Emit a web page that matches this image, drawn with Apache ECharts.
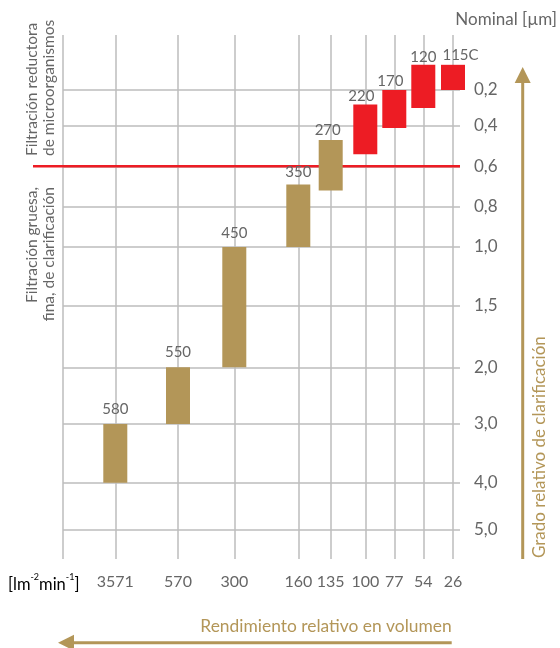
<!DOCTYPE html>
<html>
<head>
<meta charset="utf-8">
<script src="https://cdn.jsdelivr.net/npm/echarts@6/dist/echarts.min.js"></script>
<style>
  html, body { margin: 0; padding: 0; background: #fff; }
  #chart { width: 560px; height: 648px; }
</style>
</head>
<body>
<div id="chart"></div>
<script>
// ---- data ----
const categories = ['3571', '570', '300', '160', '135', '100', '77', '54', '26'];
const ratings = ['580', '550', '450', '350', '270', '220', '170', '120', '115C'];
const poreFrom = [3.0, 2.0, 1.0, 0.69, 0.47, 0.28, 0.2, 0.06, 0.06];
const poreTo = [4.0, 3.0, 2.0, 1.0, 0.72, 0.54, 0.41, 0.30, 0.20];
const filterClass = ['coarse', 'coarse', 'coarse', 'coarse', 'coarse', 'micro', 'micro', 'micro', 'micro'];
const thresholdPore = 0.6;
const yTickValues = [0.2, 0.4, 0.6, 0.8, 1.0, 1.5, 2.0, 3.0, 4.0, 5.0];
const yTickLabels = ['0,2', '0,4', '0,6', '0,8', '1,0', '1,5', '2,0', '3,0', '4,0', '5,0'];

// ---- axis layout (non-linear scales of the original design) ----
const xAxisStops = [52.3, 115, 171.3, 235.3, 267.7, 302.3, 331.3, 360.3, 390];
const yAxisStops = [55, 91, 131.3, 171.7, 212, 271, 332.3, 389, 447.7, 494.3];
const X_MAX = 397, Y_MAX = 524;

// ---- label placement style (offsets of each rating label from its bar top) ----
const labelLift = [15, 15.5, 14, 12, 10, 8, 8.4, 8, 9.3];
const labelShift = [0, 0, 0, 0, -3, -4, -4, 0, 7.5];

function poreToAxis(v) {
  const n = yTickValues.length;
  let i = 0;
  if (v <= yTickValues[0]) i = 0;
  else if (v >= yTickValues[n - 1]) i = n - 2;
  else { while (v > yTickValues[i + 1]) i++; }
  const t = (v - yTickValues[i]) / (yTickValues[i + 1] - yTickValues[i]);
  return yAxisStops[i] + t * (yAxisStops[i + 1] - yAxisStops[i]);
}
function nearestIndex(arr, v) {
  let best = 0;
  arr.forEach((a, i) => { if (Math.abs(a - v) < Math.abs(arr[best] - v)) best = i; });
  return best;
}

const GOLD = '#b39658';
const RED = '#ed1c24';
const GRAY_TEXT = '#666666';
const GRID = '#bdbdbd';
const FONT = 'Lato, "Open Sans", sans-serif';
const classColor = { coarse: GOLD, micro: RED };

const barData = categories.map((c, i) => [xAxisStops[i], poreToAxis(poreFrom[i]), poreToAxis(poreTo[i]), i]);

const chart = echarts.init(document.getElementById('chart'), null, { renderer: 'canvas' });

chart.setOption({
  animation: false,
  backgroundColor: '#fff',
  textStyle: { fontFamily: FONT },
  grid: { left: 63, top: 35, width: X_MAX, height: Y_MAX, containLabel: false },
  xAxis: {
    type: 'value', min: 0, max: X_MAX,
    axisLine: { show: false },
    axisTick: { show: false, customValues: [0].concat(xAxisStops) },
    splitLine: { show: true, lineStyle: { color: GRID, width: 1.5 } },
    axisLabel: {
      customValues: xAxisStops,
      formatter: v => categories[nearestIndex(xAxisStops, v)],
      margin: 15, fontSize: 16, color: GRAY_TEXT, fontFamily: FONT
    }
  },
  yAxis: {
    type: 'value', min: 0, max: Y_MAX, inverse: true, position: 'right',
    axisLine: { show: false },
    axisTick: { show: false, customValues: yAxisStops },
    splitLine: { show: true, lineStyle: { color: GRID, width: 1.5 } },
    axisLabel: {
      customValues: yAxisStops,
      formatter: v => yTickLabels[nearestIndex(yAxisStops, v)],
      margin: 14, fontSize: 17, color: GRAY_TEXT, fontFamily: FONT
    }
  },
  series: [
    {
      type: 'custom',
      clip: false,
      data: [[poreToAxis(thresholdPore)]],
      renderItem: (params, api) => {
        const y = api.value(0);
        const a = api.coord([0, y]);
        const b = api.coord([X_MAX, y]);
        return {
          type: 'line',
          shape: { x1: a[0] - 30, y1: a[1], x2: b[0], y2: b[1] },
          style: { stroke: RED, lineWidth: 2.5 }
        };
      },
      z: 3
    },
    {
      type: 'custom',
      clip: false,
      data: barData,
      renderItem: (params, api) => {
        const i = api.value(3);
        const top = api.coord([api.value(0), api.value(1)]);
        const bot = api.coord([api.value(0), api.value(2)]);
        const w = 24;
        return {
          type: 'group',
          children: [
            {
              type: 'rect',
              shape: { x: top[0] - w / 2, y: top[1], width: w, height: bot[1] - top[1] },
              style: { fill: classColor[filterClass[i]] }
            },
            {
              type: 'text',
              x: top[0] + labelShift[i], y: top[1] - labelLift[i],
              style: {
                text: ratings[i], textAlign: 'center', textVerticalAlign: 'middle',
                font: '15px ' + FONT, fill: GRAY_TEXT
              }
            }
          ]
        };
      },
      z: 4
    }
  ],
  graphic: [
    {
      type: 'text', x: 557, y: 20,
      style: { text: 'Nominal [µm]', textAlign: 'right', textVerticalAlign: 'middle', font: '17px ' + FONT, fill: GRAY_TEXT }
    },
    {
      type: 'text', x: 40.5, y: 156, rotation: Math.PI / 2,
      style: {
        text: 'Filtración reductora\nde microorganismos', textAlign: 'left', textVerticalAlign: 'middle',
        font: '15.5px ' + FONT, fill: GRAY_TEXT, lineHeight: 17
      }
    },
    {
      type: 'text', x: 40.5, y: 187, rotation: Math.PI / 2,
      style: {
        text: 'Filtración gruesa,\nfina, de clarificación', textAlign: 'right', textVerticalAlign: 'middle',
        font: '15.5px ' + FONT, fill: GRAY_TEXT, lineHeight: 17
      }
    },
    {
      type: 'text', x: 8, y: 583,
      style: {
        text: '{b|[lm}{s|-2}{b|min}{s|-1}{b|]}',
        textAlign: 'left', textVerticalAlign: 'middle',
        rich: {
          b: { fontSize: 16.5, fontFamily: FONT, color: GRAY_TEXT, lineHeight: 20, verticalAlign: 'bottom' },
          s: { fontSize: 9, fontFamily: FONT, color: GRAY_TEXT, lineHeight: 20, verticalAlign: 'top' }
        }
      }
    },
    {
      type: 'text', x: 540, y: 558, rotation: Math.PI / 2,
      style: { text: 'Grado relativo de clarificación', textAlign: 'left', textVerticalAlign: 'middle', font: '17px ' + FONT, fill: GOLD }
    },
    {
      type: 'line', shape: { x1: 522.7, y1: 80, x2: 522.7, y2: 559 },
      style: { stroke: GOLD, lineWidth: 3 }
    },
    {
      type: 'polygon', shape: { points: [[522.7, 67], [514.7, 83], [530.7, 83]] },
      style: { fill: GOLD }
    },
    {
      type: 'text', x: 451.7, y: 626,
      style: { text: 'Rendimiento relativo en volumen', textAlign: 'right', textVerticalAlign: 'middle', font: '17.4px ' + FONT, fill: GOLD }
    },
    {
      type: 'line', shape: { x1: 72, y1: 642.7, x2: 451.7, y2: 642.7 },
      style: { stroke: GOLD, lineWidth: 3 }
    },
    {
      type: 'polygon', shape: { points: [[58, 642.7], [74, 634.7], [74, 650.7]] },
      style: { fill: GOLD }
    }
  ]
});
</script>
</body>
</html>
